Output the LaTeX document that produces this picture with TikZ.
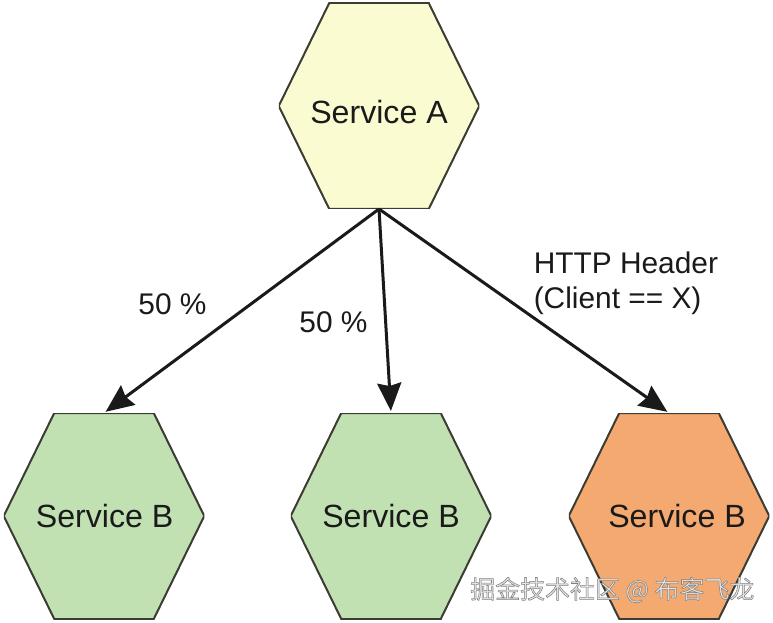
\documentclass[tikz,border=0pt]{standalone}
\usepackage{fontspec}
\setmainfont{Liberation Sans}
\newfontfamily\cjkfont{Noto Sans CJK SC}
\usetikzlibrary{arrows.meta}
\definecolor{hexyellow}{HTML}{FBFBD2}
\definecolor{hexgreen}{HTML}{C1E1B2}
\definecolor{hexorange}{HTML}{F4A970}
\definecolor{ink}{HTML}{1A1A1A}
\definecolor{hexline}{HTML}{3C3C34}
\newcommand{\hexpath}{%
  (path picture bounding box.west)
  -- ([xshift=50.5*0.75pt]path picture bounding box.north west)
  -- ([xshift=-50.5*0.75pt]path picture bounding box.north east)
  -- (path picture bounding box.east)
  -- ([xshift=-50.5*0.75pt]path picture bounding box.south east)
  -- ([xshift=50.5*0.75pt]path picture bounding box.south west)
  -- cycle}
\tikzset{
  hexbox/.style={minimum width=200.5*0.75pt,minimum height=206*0.75pt,inner sep=0pt,outer sep=0pt,
    text=ink,font=\fontsize{24.1pt}{26pt}\selectfont,
    path picture={\path[fill=#1,draw=hexline,line width=2*0.75pt,line join=miter] \hexpath;}},
  flow/.style={draw=ink,line width=3*0.75pt,shorten >=1.5pt,
    -{Stealth[length=28*0.75pt,width=24*0.75pt,inset=3*0.75pt]}},
  tag/.style={text=ink,inner sep=0pt,font=\fontsize{22.4pt}{26.2pt}\selectfont}
}
\begin{document}
\begin{tikzpicture}[x=0.75pt,y=-0.75pt]
\useasboundingbox (0,0) rectangle (773,623);
\node[hexbox=hexyellow] (a) at (379,106) {\rule{0pt}{26pt}Service A};
\node[hexbox=hexgreen] (b1) at (104,516) {\hspace*{1pt}Service B};
\node[hexbox=hexgreen] (b2) at (391,516) {Service B};
\node[hexbox=hexorange] (b3) at (669,516) {\hspace*{12pt}Service B};
\draw[flow] (a.south) -- (b1.north);
\draw[flow] (a.south) -- (b2.north);
\draw[flow] (a.south) -- (b3.north);
\node[tag] (l1) at (172.5,304) {50 \%};
\node[tag] (l2) at (333.5,322) {50 \%};
\node[tag,align=left,anchor=north west] (l3) at (533.5,252) {HTTP Header\\(Client == X)};
\node[inner sep=0pt,anchor=west,font=\cjkfont\fontsize{18.7pt}{20pt}\selectfont] (wm) at (470,590) {\special{pdf:code q 2 Tr 0.4 w 0.5 G 0.9 g}掘金技术社区 @ 布客飞龙\special{pdf:code 0 Tr Q}};
\end{tikzpicture}
\end{document}
